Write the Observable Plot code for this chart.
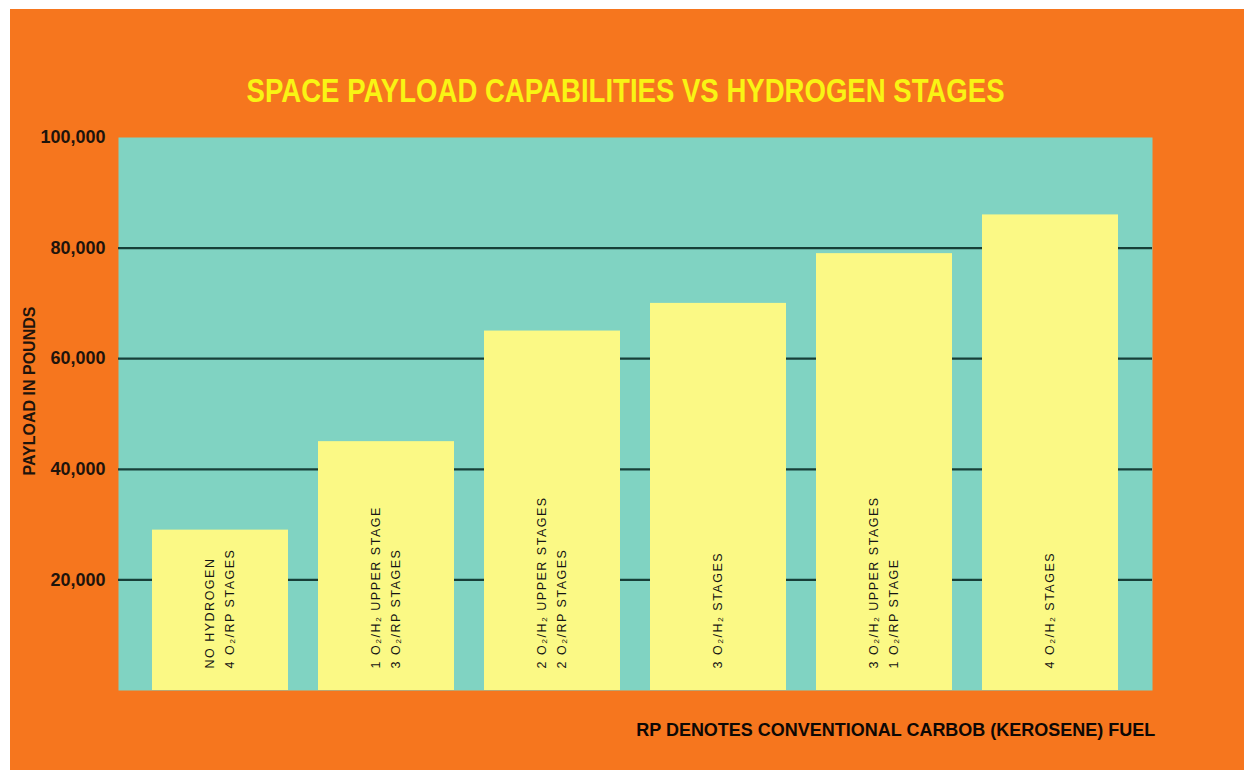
<!DOCTYPE html>
<html>
<head>
<meta charset="utf-8">
<script src="https://cdn.jsdelivr.net/npm/d3@7"></script>
<script src="https://cdn.jsdelivr.net/npm/@observablehq/plot@0.6"></script>
<style>
  html, body { margin: 0; padding: 0; background: #ffffff; overflow: hidden; width: 1244px; height: 770px; }
  #bg { position: absolute; left: 10px; top: 9px; width: 1234px; height: 761px; background: #f6761e; }
  #chart { position: absolute; left: 0; top: 0; }
  #title { position: absolute; left: 0; top: 73px; width: 1252px; text-align: center;
           font: bold 34px/34px "Liberation Sans", Arial, sans-serif; color: #f9f414; white-space: nowrap; }
  #caption { position: absolute; right: 89px; top: 720px; text-align: right;
           font: bold 19px/19px "Liberation Sans", Arial, sans-serif; color: #0d0805; white-space: nowrap; }
  #title span, #caption span { display: inline-block; }
  #chart g[aria-label^="y-axis"] text { font-weight: bold; font-size: 18px; fill: #1e140c; }
</style>
</head>
<body>
<div id="bg"></div>
<div id="chart"></div>
<div id="title"><span>SPACE PAYLOAD CAPABILITIES VS HYDROGEN STAGES</span></div>
<div id="caption"><span>RP DENOTES CONVENTIONAL CARBOB (KEROSENE) FUEL</span></div>
<script>
const categories = [
  "NO HYDROGEN\n4 O₂/RP STAGES",
  "1 O₂/H₂ UPPER STAGE\n3 O₂/RP STAGES",
  "2 O₂/H₂ UPPER STAGES\n2 O₂/RP STAGES",
  "3 O₂/H₂ STAGES",
  "3 O₂/H₂ UPPER STAGES\n1 O₂/RP STAGE",
  "4 O₂/H₂ STAGES"
];
const payload = [29000, 45000, 65000, 70000, 79000, 86000];
const yTicks = [20000, 40000, 60000, 80000, 100000];
const gridValues = [20000, 40000, 60000, 80000];
const yLabel = "PAYLOAD IN POUNDS";

const rows = categories.map((c, i) => ({category: c, payload: payload[i]}));

const plot = Plot.plot({
  width: 1244,
  height: 770,
  marginLeft: 118,
  marginRight: 92,
  marginTop: 137,
  marginBottom: 80,
  style: {background: "transparent", fontFamily: "'Liberation Sans', Arial, sans-serif", overflow: "visible"},
  x: {domain: categories, axis: null, paddingInner: 0.18, paddingOuter: 0.2},
  y: {domain: [0, 100000], ticks: yTicks, tickFormat: d3.format(","), tickSize: 0, tickPadding: 13, label: null},
  marks: [
    Plot.frame({fill: "#80d3c2", stroke: "none"}),
    Plot.ruleY(gridValues, {stroke: "#173f38", strokeWidth: 2.2}),
    Plot.barY(rows, {x: "category", y: "payload", fill: "#fbf985"}),
    Plot.text(rows, {x: "category", text: "category", frameAnchor: "bottom", dy: -22, dx: -3, rotate: -90,
      textAnchor: "start", lineAnchor: "middle", lineHeight: 1.65, fontSize: 12.5, fill: "#151515"}),
    Plot.text([yLabel], {text: d => d, frameAnchor: "left", dx: -89, dy: -23, rotate: -90,
      textAnchor: "middle", fontSize: 16, fontWeight: "bold", fill: "#1e140c"})
  ]
});
document.getElementById("chart").appendChild(plot);

// letter spacing for the in-bar labels
d3.select(plot).selectAll('g[aria-label="text"]').filter((d, i) => i === 0)
  .selectAll("text").style("letter-spacing", "1.5px");

function fit(id, target, origin) {
  const span = document.querySelector("#" + id + " span");
  const w = span.getBoundingClientRect().width;
  span.style.transformOrigin = origin;
  span.style.transform = `scaleX(${target / w})`;
}
fit("title", 758, "center");
fit("caption", 519, "right");
</script>
</body>
</html>
